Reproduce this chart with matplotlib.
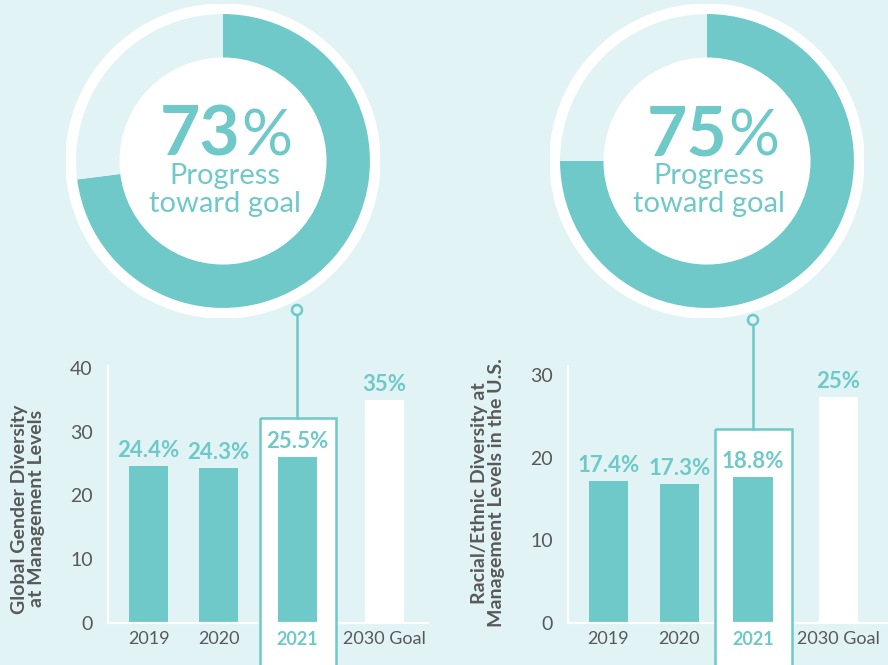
import matplotlib
matplotlib.use('Agg')
import matplotlib.pyplot as plt
from matplotlib.patches import Circle, Rectangle

TEAL = '#6fc9c9'
BG = '#e1f3f4'
GRAY = '#58595b'
plt.rcParams['font.family'] = ['Lato', 'DejaVu Sans']

W, H = 888, 665

# data
progress = [73, 75]
years = ['2019', '2020', '2021', '2030 Goal']
gender_vals = [24.6, 24.3, 26.0, 35.0]
gender_labels = ['24.4%', '24.3%', '25.5%', '35%']
racial_vals = [17.2, 16.8, 17.7, 27.3]
racial_labels = ['17.4%', '17.3%', '18.8%', '25%']
ylabels = ['Global Gender Diversity\nat Management Levels',
           'Racial/Ethnic Diversity at\nManagement Levels in the U.S.']


def px_box(x0, y0, w, h):
    # pixel box (top-left origin) -> figure fraction
    return [x0 / W, 1 - (y0 + h) / H, w / W, h / H]


fig = plt.figure(figsize=(8.88, 6.65), dpi=100, facecolor=BG)

bg = fig.add_axes([0, 0, 1, 1], zorder=0)
bg.set_xlim(0, W)
bg.set_ylim(H, 0)
bg.axis('off')

top = fig.add_axes([0, 0, 1, 1], zorder=5)
top.set_xlim(0, W)
top.set_ylim(H, 0)
top.patch.set_alpha(0)
top.axis('off')


def donut(cx, cy, pct, split_x):
    ax = fig.add_axes(px_box(cx - 157, cy - 157, 314, 314), zorder=1)
    ax.add_patch(Circle((0, 0), 1, color='white'))
    ax.pie([pct, 100 - pct], colors=[TEAL, BG], startangle=90, counterclock=False,
           radius=0.936, wedgeprops=dict(width=0.936 - 0.655, linewidth=0))
    ax.add_patch(Circle((0, 0), 0.655, color='white', zorder=3))
    ax.set_xlim(-1, 1)
    ax.set_ylim(-1, 1)
    ax.set_aspect('equal')
    ax.axis('off')
    # centre texts
    top.text(split_x, 156, str(pct), ha='right', va='baseline', fontsize=50,
             fontweight='bold', color=TEAL)
    top.text(split_x + 1, 156, '%', ha='left', va='baseline', fontsize=46,
             color=TEAL)
    top.text(cx + 2, 184, 'Progress', ha='center', va='baseline', fontsize=21, color=TEAL)
    top.text(cx + 2, 212, 'toward goal', ha='center', va='baseline', fontsize=21, color=TEAL)


donut(223, 161, progress[0], 240)
donut(707, 161, progress[1], 727)


def bar_chart(x0, x1, ymax, yticks, xpos, xlim, vals, labels, ylabel, box, conn):
    ax = fig.add_axes(px_box(x0, 366, x1 - x0, 257), zorder=2)
    ax.patch.set_alpha(0)
    ax.bar(xpos, vals, width=0.555, color=[TEAL, TEAL, TEAL, 'white'], linewidth=0)
    for x, v, t in zip(xpos, vals, labels):
        ax.annotate(t, (x, v), xytext=(0, 6.5), textcoords='offset points',
                    ha='center', va='baseline', fontsize=16, fontweight='bold', color=TEAL)
    ax.set_xlim(*xlim)
    ax.set_ylim(0, ymax)
    ax.set_yticks(yticks)
    ax.set_xticks(xpos)
    ax.set_xticklabels(years)
    ax.tick_params(length=0, labelcolor=GRAY)
    ax.tick_params(axis='y', pad=11, labelsize=14)
    ax.tick_params(axis='x', pad=6, labelsize=13)
    hl = ax.get_xticklabels()[2]
    hl.set_color(TEAL)
    hl.set_fontweight('bold')
    for s in ['top', 'right']:
        ax.spines[s].set_visible(False)
    for s in ['left', 'bottom']:
        ax.spines[s].set_color('white')
        ax.spines[s].set_linewidth(1.6)
    ax.set_ylabel(ylabel, fontsize=14, fontweight='bold', color=GRAY,
                  va='center', ha='center', multialignment='center', linespacing=1.05)
    ax.yaxis.set_label_coords(box[3], box[4])
    # highlight box around 2021
    bx0, bx1, by = box[0], box[1], box[2]
    bg.add_patch(Rectangle((bx0, by), bx1 - bx0, H - by + 5, facecolor='white', edgecolor='none'))
    top.add_patch(Rectangle((bx0, by), bx1 - bx0, H - by + 5, facecolor='none',
                            edgecolor=TEAL, linewidth=1.8))
    # connector to donut
    cx, cy = conn
    top.plot([cx, cx], [cy + 5, by], color=TEAL, linewidth=1.8)
    top.add_patch(Circle((cx, cy), 5, facecolor=BG, edgecolor=TEAL, linewidth=1.8))
    return ax


bar_chart(108, 428, 40.3, [0, 10, 20, 30, 40], [0, 1, 2.13, 3.37], (-0.579, 3.993),
          gender_vals, gender_labels, ylabels[0], (260, 336, 418, -0.25, 0.444), (297, 310))
bar_chart(568, 888, 31.1, [0, 10, 20, 30], [0, 1, 2.04, 3.24], (-0.57, 3.94),
          racial_vals, racial_labels, ylabels[1], (715, 792, 429, -0.25, 0.506), (753, 320))

fig.savefig('out.png', dpi=100, facecolor=BG)
